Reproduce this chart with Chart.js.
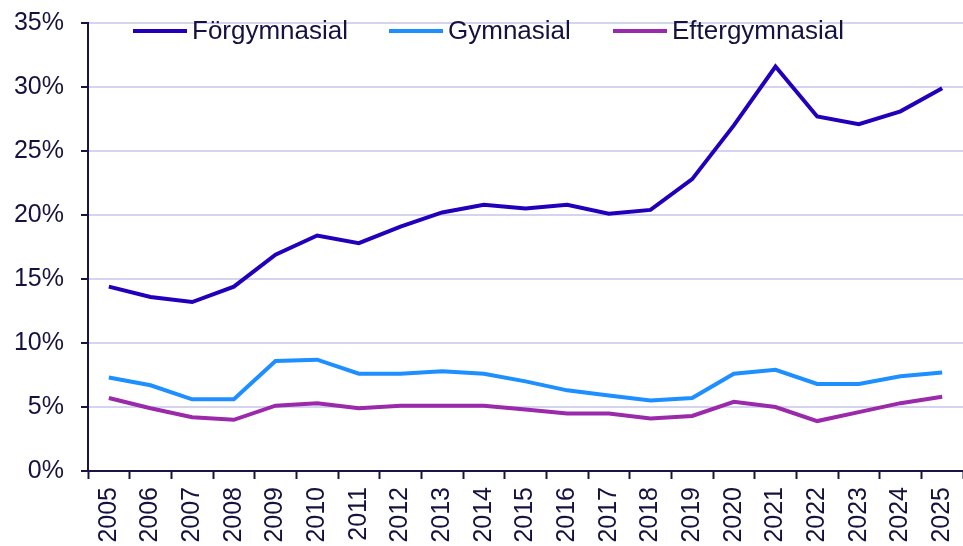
<!DOCTYPE html>
<html><head><meta charset="utf-8">
<script src="https://cdn.jsdelivr.net/npm/chart.js@4/dist/chart.umd.min.js"></script>
<style>html,body{margin:0;padding:0;background:#fff}#wrap{width:963px;height:546px}</style>
</head><body><div id="wrap"><canvas id="c" width="963" height="546"></canvas></div>
<script>
const years = ['2005','2006','2007','2008','2009','2010','2011','2012','2013','2014','2015','2016','2017','2018','2019','2020','2021','2022','2023','2024','2025'];
const forgymnasial = [14.4,13.6,13.2,14.4,16.9,18.4,17.8,19.1,20.2,20.8,20.5,20.8,20.1,20.4,22.8,27.0,31.6,27.7,27.1,28.1,29.9];
const gymnasial = [7.3,6.7,5.6,5.6,8.6,8.7,7.6,7.6,7.8,7.6,7.0,6.3,5.9,5.5,5.7,7.6,7.9,6.8,6.8,7.4,7.7];
const eftergymnasial = [5.7,4.9,4.2,4.0,5.1,5.3,4.9,5.1,5.1,5.1,4.8,4.5,4.5,4.1,4.3,5.4,5.0,3.9,4.6,5.3,5.8];
const seriesNames = ['Förgymnasial','Gymnasial','Eftergymnasial'];
const colors = ['#2200bb','#1e8fff','#9b2aab'];
const textColor = '#14123f';
const axisColor = '#1a1440';
const gridColor = '#d4d4ef';
const FONT = 'Liberation Sans, Arial, sans-serif';

const mk = (i, data) => ({label: seriesNames[i], data, borderColor: colors[i], backgroundColor: colors[i], borderWidth: 4, pointRadius: 0, tension: 0, fill: false});

// Legend drawn inside the plot area, on top of the grid
const legendStarts = [133, 389, 613];
const lineLegend = {
  id: 'lineLegend',
  afterDatasetsDraw(chart) {
    const ctx = chart.ctx;
    const y = 31;
    ctx.save();
    ctx.font = '26px ' + FONT;
    ctx.textBaseline = 'middle';
    ctx.textAlign = 'left';
    chart.data.datasets.forEach((ds, i) => {
      const x = legendStarts[i];
      ctx.strokeStyle = ds.borderColor;
      ctx.lineWidth = 4;
      ctx.beginPath();
      ctx.moveTo(x, y);
      ctx.lineTo(x + 54, y);
      ctx.stroke();
      ctx.fillStyle = textColor;
      ctx.fillText(ds.label, x + 59, y + 1);
    });
    ctx.restore();
  }
};

new Chart(document.getElementById('c'), {
  type: 'line',
  data: {labels: years, datasets: [mk(0, forgymnasial), mk(1, gymnasial), mk(2, eftergymnasial)]},
  options: {
    responsive: false, animation: false, devicePixelRatio: 1,
    layout: {padding: {top: 23, right: 0, bottom: 0, left: 0}},
    plugins: {tooltip: {enabled: false}, legend: {display: false}},
    scales: {
      x: {
        offset: true,
        grid: {offset: true, drawOnChartArea: false, drawTicks: true, tickLength: 8, tickColor: axisColor, tickWidth: 2},
        border: {color: axisColor, width: 2},
        ticks: {color: textColor, font: {family: FONT, size: 25}, maxRotation: 90, minRotation: 90, padding: 8, autoSkip: false},
        afterFit(s) { s.height = 75; s.paddingLeft = 0; s.paddingRight = 0; }
      },
      y: {
        min: 0, max: 35,
        grid: {color: gridColor, lineWidth: 2, drawTicks: true, tickLength: 7, tickColor: axisColor, tickWidth: 2},
        border: {color: axisColor, width: 2},
        ticks: {stepSize: 5, color: textColor, font: {family: FONT, size: 25}, padding: 17, callback: v => v + '%'},
        afterFit(s) { s.width = 88; s.paddingTop = 0; s.paddingBottom = 0; }
      }
    }
  },
  plugins: [lineLegend]
});
</script></body></html>
